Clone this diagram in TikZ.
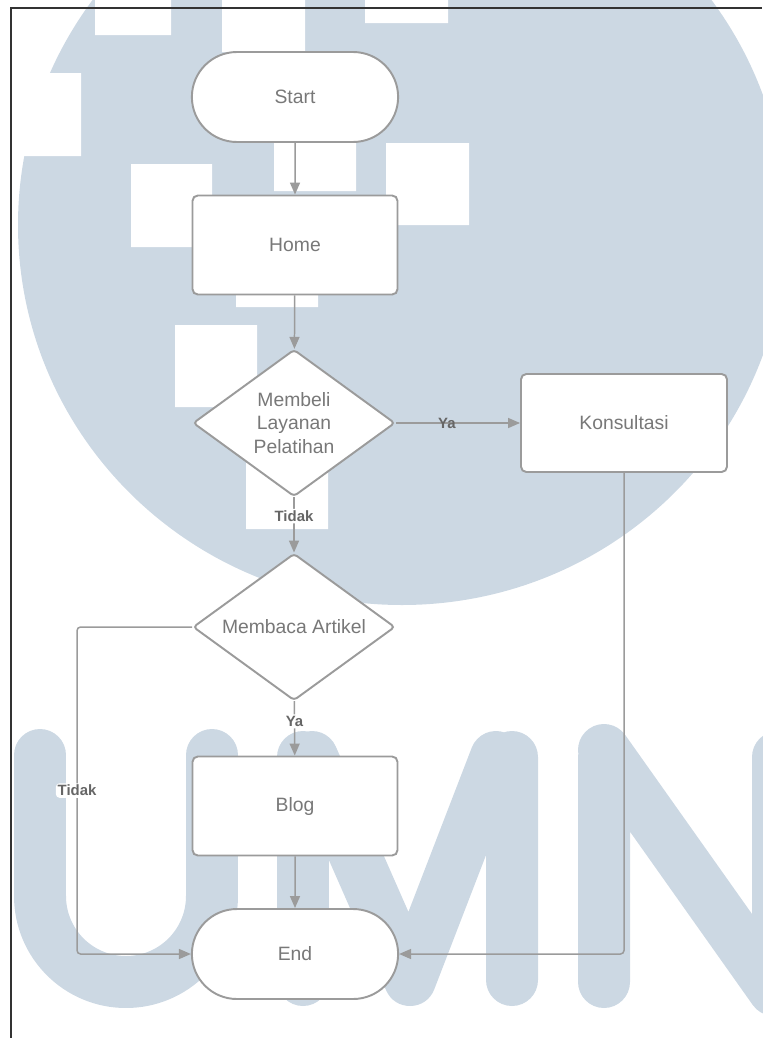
\documentclass[tikz,border=0pt]{standalone}
\usepackage{fontspec}
\setmainfont{Liberation Sans}
\usepackage{color}
\usepackage{tikz}
\usetikzlibrary{shapes,arrows.meta}
\definecolor{umnblue}{RGB}{204,216,227}
\definecolor{linegray}{RGB}{155,155,155}
\definecolor{textgray}{RGB}{120,120,120}

\begin{document}
\begin{tikzpicture}[x=0.02cm,y=-0.02cm]
  \tikzstyle{blk}=[draw=linegray,line width=1.1pt,fill=white,text=textgray,font=\fontsize{11pt}{13.6pt}\selectfont]
  \tikzstyle{box}=[blk,rectangle,rounded corners=3pt,minimum width=4.1cm,minimum height=1.98cm]
  \tikzstyle{term}=[blk,rounded rectangle,minimum width=4.36cm,minimum height=1.8cm]
  \tikzstyle{choice}=[blk,diamond,rounded corners=2pt,align=center,inner sep=0pt,shape aspect=1.37,minimum width=4.04cm,minimum height=2.94cm]
  \tikzstyle{conn}=[draw=linegray,line width=0.85pt,rounded corners=2pt,-{Triangle[length=0.24cm,width=0.2cm]}]
  \tikzstyle{lbl}=[inner sep=1pt,text=black!60,font=\fontsize{8.5pt}{10pt}\selectfont\bfseries]
  \useasboundingbox (0,0) rectangle (762,1038);
  % watermark
  \fill[umnblue] (402,225) ellipse [x radius=384, y radius=380];
  \fill[white] (95,0) rectangle (171,35) (222,0) rectangle (305,52) (365,0) rectangle (448,23)
    (0,73) rectangle (81,156) (274,143) rectangle (356,191) (131,164) rectangle (212,247)
    (386,143) rectangle (469,225) (236,280) rectangle (318,307) (175,325) rectangle (257,407)
    (246,440) rectangle (328,529);
  \begin{scope}[draw=umnblue,line width=1.04cm,line cap=round,line join=round]
    \draw (40,755) -- (40,896) arc[start angle=180,end angle=0,radius=86] -- (212,755);
    \draw (303,757) -- (303,980) (312,757) -- (410,980) -- (496,757) (512,757) -- (512,980);
    \draw (604,757) -- (604,982) (604,750) -- (774,990) (778,757) -- (778,982);
  \end{scope}
  \draw[line width=0.6pt,black!80] (11,1038) -- (11,8) -- (762,8);
  % flowchart
  \node[term] (start) at (295,97) {Start};
  \node[box] (home) at (295,245) {Home};
  \node[choice] (layanan) at (294,423) {Membeli\\Layanan\\Pelatihan};
  \node[box,minimum width=4.12cm,minimum height=1.96cm] (konsultasi) at (624,423) {Konsultasi};
  \node[choice] (artikel) at (294,627) {Membaca Artikel};
  \node[box] (blog) at (295,806) {Blog};
  \node[term] (stop) at (295,954) {End};
  \draw[conn] (start) -- (home);
  \draw[conn] (home) -- (layanan);
  \draw[conn] (layanan) -- node[lbl,pos=0.41]{Ya} (konsultasi);
  \draw[conn] (layanan) -- node[lbl,fill=white,pos=0.34]{Tidak} (artikel);
  \draw[conn] (artikel.west) -- ++(-115,0) |- node[lbl,fill=white,pos=0.25]{Tidak} (stop.west);
  \draw[conn] (artikel) -- node[lbl,fill=white,pos=0.37]{Ya} (blog);
  \draw[conn] (blog) -- (stop);
  \draw[conn] (konsultasi) |- (stop.east);
\end{tikzpicture}
\end{document}
